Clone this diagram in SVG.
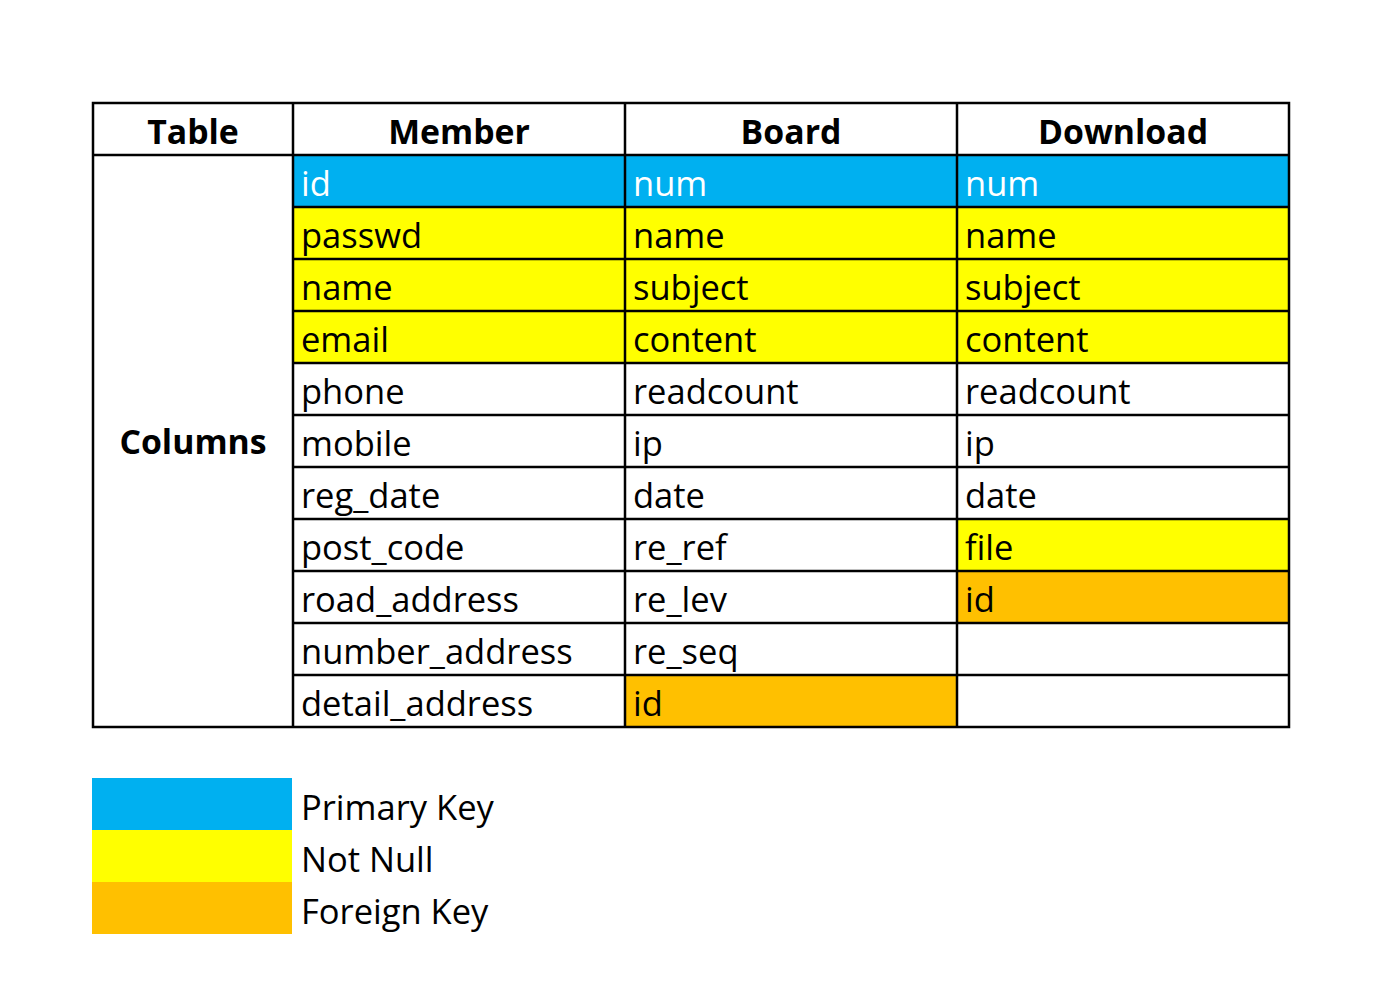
<svg xmlns="http://www.w3.org/2000/svg" width="1380" height="988" viewBox="0 0 1380 988">
<style>
.t{font-family:"Open Sans","Noto Sans","Liberation Sans",sans-serif;font-size:34.5px;fill:#000}
.h{font-family:"Open Sans","Noto Sans","Liberation Sans",sans-serif;font-size:33.8px;font-weight:bold;fill:#000;text-anchor:middle}
.w{fill:#fff}
.pk{fill:#00B0F0}.nn{fill:#FFFF00}.fk{fill:#FFC000}
.ln{stroke:#000;stroke-width:2.5;fill:none}
</style>
<rect width="1380" height="988" fill="#fff"/>
<g id="fills">
<rect class="pk" x="293" y="155" width="996" height="52"/>
<rect class="nn" x="293" y="207" width="996" height="156"/>
<rect class="nn" x="957" y="519" width="332" height="52"/>
<rect class="fk" x="957" y="571" width="332" height="52"/>
<rect class="fk" x="625" y="675" width="332" height="52"/>
</g>
<g id="grid" class="ln">
<rect x="93" y="103" width="1196" height="624"/>
<line x1="93" y1="155" x2="1289" y2="155"/>
<line x1="293" y1="103" x2="293" y2="727"/>
<line x1="625" y1="103" x2="625" y2="727"/>
<line x1="957" y1="103" x2="957" y2="727"/>
<path d="M293 207H1289M293 259H1289M293 311H1289M293 363H1289M293 415H1289M293 467H1289M293 519H1289M293 571H1289M293 623H1289M293 675H1289"/>
</g>
<g id="header">
<text class="h" x="193" y="144">Table</text>
<text class="h" x="459" y="144">Member</text>
<text class="h" x="791" y="144">Board</text>
<text class="h" x="1123" y="144">Download</text>
<text class="h" x="193" y="454">Columns</text>
</g>
<g id="member" class="t">
<text x="301" y="196" class="t w">id</text>
<text x="301" y="248">passwd</text>
<text x="301" y="300">name</text>
<text x="301" y="352">email</text>
<text x="301" y="404">phone</text>
<text x="301" y="456">mobile</text>
<text x="301" y="508">reg_date</text>
<text x="301" y="560">post_code</text>
<text x="301" y="612">road_address</text>
<text x="301" y="664">number_address</text>
<text x="301" y="716">detail_address</text>
</g>
<g id="board" class="t">
<text x="633" y="196" class="t w">num</text>
<text x="633" y="248">name</text>
<text x="633" y="300">subject</text>
<text x="633" y="352">content</text>
<text x="633" y="404">readcount</text>
<text x="633" y="456">ip</text>
<text x="633" y="508">date</text>
<text x="633" y="560">re_ref</text>
<text x="633" y="612">re_lev</text>
<text x="633" y="664">re_seq</text>
<text x="633" y="716">id</text>
</g>
<g id="download" class="t">
<text x="965" y="196" class="t w">num</text>
<text x="965" y="248">name</text>
<text x="965" y="300">subject</text>
<text x="965" y="352">content</text>
<text x="965" y="404">readcount</text>
<text x="965" y="456">ip</text>
<text x="965" y="508">date</text>
<text x="965" y="560">file</text>
<text x="965" y="612">id</text>
</g>
<g id="legend">
<rect class="pk" x="92" y="778" width="200" height="52"/>
<rect class="nn" x="92" y="830" width="200" height="52"/>
<rect class="fk" x="92" y="882" width="200" height="52"/>
<text class="t" x="301" y="820">Primary Key</text>
<text class="t" x="301" y="872">Not Null</text>
<text class="t" x="301" y="924">Foreign Key</text>
</g>
</svg>
